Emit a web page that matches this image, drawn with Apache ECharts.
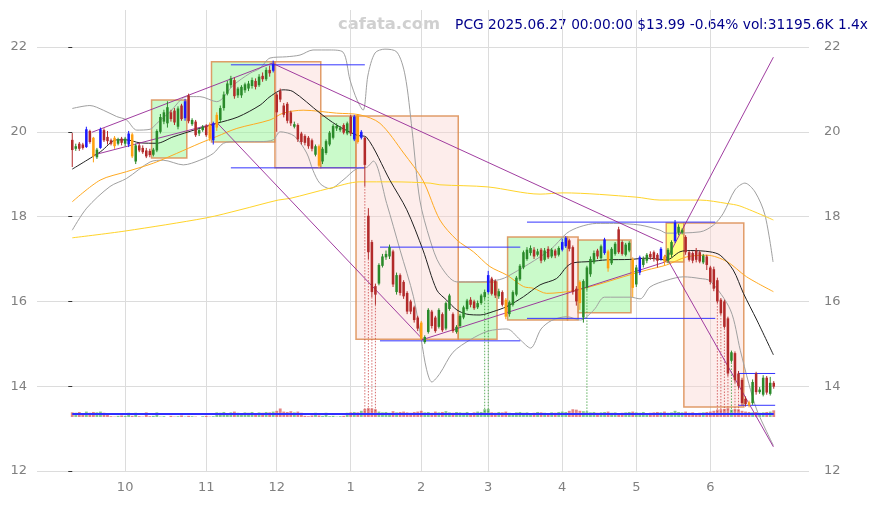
<!DOCTYPE html>
<html><head><meta charset="utf-8">
<script src="https://cdn.jsdelivr.net/npm/echarts@6/dist/echarts.min.js"></script>
<style>html,body{margin:0;padding:0;background:#fff}#c{width:879px;height:505px}</style>
</head><body><div id="c"></div>
<script>
// ---- trading days (categories) ----
const tradingDays = [
  ['2024-09',[10,11,12,13,16,17,18,19,20,23,24,25,26,27,30]],
  ['2024-10',[1,2,3,4,7,8,9,10,11,14,15,16,17,18,21,22,23,24,25,28,29,30,31]],
  ['2024-11',[1,4,5,6,7,8,11,12,13,14,15,18,19,20,21,22,25,26,27,29]],
  ['2024-12',[2,3,4,5,6,9,10,11,12,13,16,17,18,19,20,23,24,26,27,30,31]],
  ['2025-01',[2,3,6,7,8,10,13,14,15,16,17,21,22,23,24,27,28,29,30,31]],
  ['2025-02',[3,4,5,6,7,10,11,12,13,14,18,19,20,21,24,25,26,27,28]],
  ['2025-03',[3,4,5,6,7,10,11,12,13,14,17,18,19,20,21,24,25,26,27,28,31]],
  ['2025-04',[1,2,3,4,7,8,9,10,11,14,15,16,17,21,22,23,24,25,28,29,30]],
  ['2025-05',[1,2,5,6,7,8,9,12,13,14,15,16,19,20,21,22,23,27,28,29,30]],
  ['2025-06',[2,3,4,5,6,9,10,11,12,13,16,17,18,20,23,24,25,26,27]]
];
const dates = [];
tradingDays.forEach(([m, ds]) => ds.forEach(d => dates.push(m + '-' + String(d).padStart(2,'0'))));

// ---- OHLC ----
const open = [19.81,19.60,19.72,19.70,19.64,20.02,19.86,19.40,19.62,20.04,19.88,19.80,19.86,19.72,19.84,
19.72,19.70,19.94,19.30,19.68,19.62,19.56,19.55,19.46,19.56,20.00,20.24,20.20,20.46,20.50,20.12,20.62,20.32,20.86,20.18,20.24,19.96,20.04,
20.14,20.16,19.80,20.10,20.28,20.56,20.90,21.10,21.22,20.86,20.86,20.98,21.02,21.08,21.20,21.10,21.32,21.24,21.46,21.44,
20.88,20.96,20.62,20.66,20.46,20.12,20.16,19.96,19.90,19.86,19.80,19.46,19.66,19.30,19.50,19.70,19.86,20.08,20.04,20.16,19.96,
20.36,19.82,20.38,19.86,19.86,18.02,17.40,16.36,16.42,16.84,17.04,17.06,17.18,16.22,16.62,16.46,16.20,16.00,15.86,15.62,
15.50,15.04,15.28,15.76,15.62,15.40,15.70,15.36,15.82,15.70,15.28,15.42,15.62,15.82,16.04,16.00,15.86,15.96,16.10,
16.22,16.54,16.48,16.12,16.22,16.04,15.70,15.92,16.16,16.52,16.80,17.00,17.14,17.22,17.10,17.22,16.98,17.24,17.06,17.20,17.10,
17.22,17.30,17.44,17.28,16.30,16.46,15.62,16.32,16.64,16.92,17.20,17.02,17.14,17.18,16.90,17.12,17.70,17.40,17.10,17.20,17.00,
16.40,16.68,16.86,16.96,17.12,17.16,17.10,17.00,17.06,16.96,17.10,17.42,17.62,17.62,17.52,17.16,17.14,17.20,17.16,16.92,17.06,
16.80,16.76,16.50,16.04,16.00,15.60,14.60,14.78,14.30,14.15,13.70,13.62,13.60,14.30,13.86,13.80,14.20,13.82,14.08];
const close = [19.57,19.66,19.60,19.62,20.06,19.76,19.42,19.58,20.06,19.80,19.78,19.72,19.66,19.82,19.74,
19.84,19.96,19.42,19.68,19.56,19.52,19.42,19.45,19.58,20.02,20.35,20.46,20.58,20.30,20.22,20.55,20.30,20.72,20.25,20.28,19.92,20.04,20.12,
19.92,19.84,20.20,20.40,20.56,20.88,21.14,21.26,20.84,21.02,21.06,21.12,21.14,21.22,21.06,21.30,21.24,21.46,21.38,21.60,
20.46,20.76,20.40,20.26,20.20,20.18,19.82,19.76,19.74,19.66,19.60,19.66,19.20,19.60,19.78,19.98,20.14,20.14,20.10,19.98,20.20,
19.96,20.36,19.76,20.00,19.22,17.16,16.22,16.16,16.86,17.06,17.12,17.28,16.40,16.62,16.20,16.12,15.76,15.76,15.56,15.36,
15.12,15.16,15.80,15.42,15.30,15.80,15.32,15.96,16.14,15.30,15.40,15.66,15.86,16.02,15.92,15.84,15.96,16.14,16.22,
16.62,16.18,16.14,16.24,15.92,15.64,15.98,16.22,16.56,16.84,17.16,17.22,17.26,17.06,17.18,16.96,17.20,17.04,17.22,17.08,17.26,
17.40,17.50,17.24,16.22,16.00,15.96,16.48,16.80,17.00,17.14,17.06,17.30,17.46,16.78,17.24,17.36,17.16,17.12,17.34,17.38,16.32,
16.80,17.04,17.00,17.10,17.04,17.00,16.96,17.24,16.94,17.22,17.40,17.86,17.76,17.68,17.16,16.98,16.96,16.98,16.94,17.08,16.86,
16.46,16.30,16.00,15.72,15.40,14.30,14.80,14.14,14.00,13.60,13.58,13.55,14.10,13.86,13.92,14.20,13.85,14.08,13.99];
const low = [19.17,19.55,19.55,19.58,19.62,19.72,19.28,19.36,19.60,19.76,19.70,19.68,19.60,19.68,19.68,
19.66,19.64,19.38,19.24,19.52,19.48,19.38,19.40,19.42,19.52,19.96,20.18,20.10,20.24,20.16,20.06,20.26,20.26,20.20,20.14,19.88,19.90,20.00,
19.88,19.78,19.70,20.02,20.22,20.50,20.86,21.04,20.78,20.80,20.80,20.92,20.96,21.02,21.00,21.06,21.18,21.20,21.30,21.40,
20.00,20.70,20.34,20.20,20.14,20.08,19.76,19.70,19.68,19.60,19.54,19.42,19.15,19.24,19.46,19.66,19.82,20.02,20.00,19.94,19.92,
19.90,19.78,19.72,19.82,18.72,17.00,16.10,15.92,16.38,16.80,16.98,17.00,16.34,16.16,16.14,16.06,15.70,15.70,15.50,15.30,
15.08,15.00,15.24,15.36,15.26,15.36,15.28,15.32,15.78,15.26,15.24,15.38,15.58,15.78,15.86,15.80,15.82,15.92,16.04,
16.18,16.14,16.08,16.06,15.88,15.58,15.64,15.88,16.12,16.48,16.76,16.96,17.08,17.00,17.06,16.90,16.94,17.00,17.02,17.02,17.06,
17.18,17.26,17.18,16.16,15.90,15.80,15.50,16.26,16.58,16.88,17.00,16.98,17.10,16.70,16.86,17.08,17.12,17.08,17.06,17.16,16.10,
16.34,16.62,16.80,16.90,16.98,16.94,16.80,16.96,16.86,16.90,17.04,17.38,17.56,17.58,17.10,16.94,16.90,16.92,16.90,16.88,16.74,
16.40,16.24,15.96,15.68,15.36,14.24,14.56,14.08,13.94,13.54,13.52,13.50,13.56,13.80,13.82,13.76,13.80,13.78,13.94];
const high = [19.97,19.72,19.76,19.74,20.12,20.05,19.88,19.62,20.10,20.08,20.02,19.84,19.90,19.86,19.88,
19.88,20.02,19.98,19.72,19.74,19.68,19.62,19.60,19.62,20.06,20.42,20.52,20.72,20.52,20.56,20.60,20.66,20.78,20.90,20.32,20.28,20.08,20.16,
20.18,20.22,20.24,20.46,20.62,20.95,21.20,21.32,21.28,21.06,21.10,21.16,21.20,21.28,21.26,21.36,21.40,21.52,21.56,21.68,
20.92,21.02,20.68,20.70,20.50,20.24,20.20,20.00,19.94,19.90,19.84,19.70,19.70,19.64,19.82,20.02,20.18,20.20,20.14,20.20,20.24,
20.40,20.40,20.42,20.04,19.88,18.20,17.45,16.42,16.90,17.12,17.20,17.34,17.22,16.68,16.66,16.50,16.24,16.04,15.90,15.66,
15.54,15.20,15.84,15.80,15.66,15.84,15.74,16.00,16.18,15.74,15.44,15.70,15.90,16.06,16.10,16.04,16.02,16.18,16.28,
16.72,16.58,16.52,16.30,16.26,16.08,16.02,16.26,16.60,16.88,17.20,17.28,17.32,17.28,17.24,17.26,17.26,17.30,17.26,17.24,17.30,
17.48,17.54,17.48,17.32,16.36,16.50,16.52,16.84,17.06,17.20,17.24,17.34,17.50,17.22,17.28,17.40,17.76,17.44,17.38,17.42,17.04,
16.86,17.08,17.06,17.14,17.18,17.20,17.14,17.28,17.10,17.26,17.44,17.92,17.82,17.72,17.56,17.20,17.18,17.26,17.20,17.12,17.10,
16.84,16.82,16.56,16.08,16.04,15.64,14.84,14.82,14.36,14.20,13.76,13.66,14.16,14.34,13.98,14.26,14.24,14.22,14.12];
// volume, millions of shares
const volume = [26,25,27,24,28,25,27,26,28,25,24,16,15,17,18,
17,25,17,25,16,15,26,16,17,26,15,16,14,17,15,16,18,15,17,16,15,14,16,
17,15,16,26,25,27,24,26,28,25,24,26,25,27,24,26,25,27,26,28,
30,36,28,27,29,26,28,25,17,16,18,25,18,17,25,16,17,15,16,17,25,
26,27,26,30,35,37,36,34,28,26,27,25,29,26,27,28,26,25,27,28,
30,26,27,25,28,26,27,29,26,25,27,26,25,27,24,26,28,27,34,
35,26,25,27,26,28,25,24,26,27,25,26,24,25,27,26,25,24,26,25,27,
28,27,30,34,33,30,29,28,26,27,25,26,27,28,25,26,24,25,26,27,28,
26,25,27,24,25,26,27,26,28,25,26,30,27,26,28,25,26,24,25,26,27,
28,30,33,34,35,37,33,35,34,30,28,27,26,27,25,26,27,28,31.2];
const volAvgPts = [[0,21.6],[50,21.5],[100,21.7],[150,21.6],[199,21.6]];

// highlighted candles
const blueIdx = [4,8,16,32,40,57,80,82,118,139,140,151,161,167,171];
const orangeIdx = [6,12,17,39,41,70,81,99,123,144,152,159,168,192];
// high-volume days marked with dotted drop lines
const spikeIdx = [83,84,85,86,117,118,146,183,184,185,186,187,188,189];

// overlay lines: [day index, price]
const ma20Pts = [[0,19.12],[8,19.53],[12.6,19.81],[15.4,19.81],[19.2,19.74],[24,19.73],[28.6,19.88],[35.3,20.06],[41,20.20],[47,20.35],[53.3,20.63],[56.1,20.83],[59.8,20.99],[62.6,20.95],[70.3,20.44],[75,20.16],[80.7,19.92],[83.5,19.87],[90.1,18.86],[94.9,18.16],[99.5,17.21],[103.4,16.27],[106.2,16.03],[109.1,15.80],[111.9,15.70],[115.7,15.68],[119.4,15.76],[123.3,15.88],[128,16.11],[132.7,16.39],[137.4,16.54],[140.3,16.82],[142.1,16.91],[146.9,16.94],[151.6,16.98],[158.2,16.99],[163,17.02],[168.6,16.98],[172.4,17.17],[175.3,17.20],[180.9,17.17],[183.8,17.09],[187.5,16.74],[190.4,16.19],[194.2,15.56],[198.9,14.74]];
const ma50Pts = [[0,18.35],[7.9,18.86],[15.4,19.06],[23,19.26],[29.6,19.49],[36.2,19.73],[41,19.89],[46.7,20.08],[56.1,20.28],[59.8,20.44],[65.5,20.51],[75,20.44],[81.6,20.40],[87.3,20.20],[94,19.50],[99.5,18.85],[104.3,17.92],[109.1,17.45],[113.8,17.17],[118.5,16.82],[123.3,16.62],[128,16.35],[130.8,16.31],[134.6,16.19],[142.1,16.25],[148.8,16.39],[156.3,16.58],[163,16.74],[168.6,16.86],[174.3,17.05],[180,17.09],[185.7,16.94],[191.3,16.58],[198.9,16.23]];
const ma200Pts = [[0,17.50],[15,17.66],[38,17.97],[47.6,18.16],[58.4,18.39],[61.8,18.43],[73.1,18.67],[81.6,18.82],[91,18.82],[101.5,18.79],[104.3,18.75],[117.9,18.70],[132.7,18.53],[139.2,18.56],[159.9,18.46],[166.7,18.39],[178.1,18.39],[185.7,18.31],[189.4,18.25],[198.9,17.92]];
const bbUpperPts = [[0,20.55],[5,20.62],[8.8,20.51],[12.6,20.36],[15.4,20.28],[18.3,20.04],[22.1,20.06],[24,20.20],[27.7,20.47],[32.5,20.83],[36.2,20.83],[41,20.71],[45.7,21.10],[50.4,21.38],[53.3,21.50],[56.1,21.74],[60.8,21.77],[64.6,21.81],[68.3,21.93],[73.1,21.93],[76.8,21.88],[78.8,21.22],[80.8,20.75],[82.5,20.51],[83.9,21.34],[85.9,21.86],[88.7,21.95],[92.1,21.88],[94.4,21.34],[96.4,20.04],[98.6,18.39],[101.5,17.45],[104.3,16.86],[109.1,16.46],[114.2,16.46],[120.4,16.50],[123.3,16.58],[135.5,17.21],[140.3,17.61],[144,17.76],[148.8,17.84],[153.5,17.84],[161.1,17.80],[166.7,17.68],[168.6,17.61],[178.1,17.64],[181.9,17.80],[184.7,18.08],[188,18.63],[190.8,18.79],[193.7,18.58],[196.5,18.04],[198.8,16.93]];
const bbLowerPts = [[0,17.68],[4.1,18.20],[10.7,18.71],[15.4,18.90],[22.1,19.29],[25.8,19.33],[31.5,19.22],[36.2,19.33],[40,19.49],[42.9,19.73],[46.7,19.77],[53.3,19.77],[57,19.81],[59,20.0],[63,19.9],[66.5,19.5],[68.3,19.09],[70.3,18.78],[73.1,18.66],[76.8,18.86],[80.7,19.13],[83.5,19.16],[85.4,19.31],[89.2,18.31],[93,17.21],[96.8,16.11],[99,15.1],[100.5,14.4],[102,14.1],[104.3,14.3],[108,14.8],[113,15.1],[118,15.3],[123.3,15.35],[127,15.1],[130,14.9],[133,15.35],[136,15.55],[140.3,15.64],[144.1,15.56],[148,15.8],[151,16.1],[158.3,16.1],[161.1,16.06],[163.9,16.34],[168.7,16.5],[173.4,16.58],[178.1,16.54],[181,16.48],[186.7,15.8],[189.5,14.85],[191.9,14.07],[194.2,13.44],[198.9,12.6]];

// zones: [first day, last day, top, bottom, kind]
const boxes = [[23,32,20.75,19.38,'g'],[40,57,21.65,19.76,'g'],[58,70,21.65,19.15,'r'],[71,80,20.37,19.15,'g'],[81,109,20.37,15.11,'r'],[110,120,16.46,15.11,'g'],[124,140,17.52,15.56,'g'],[141,143,17.52,15.56,'r'],[144,158,17.45,15.73,'g'],[169,173,17.85,16.93,'y'],[174,190,17.85,13.51,'r']];
// support / resistance levels: [from day, to day, price]
const levels = [[45,83,21.58],[45,83,19.15],[87.3,127.1,17.28],[87.3,127.1,15.07],[129,182.4,17.87],[129,182.4,15.60],[188.9,199.4,14.30],[188.9,199.4,13.55]];
// trend lines
const trendLines = [
  [[5.6,19.99],[56.7,21.62]],
  [[5.9,19.45],[41.1,20.21]],
  [[41.1,20.21],[99.6,15.09]],
  [[56.7,21.62],[167.6,17.38]],
  [[168.2,17.09],[198.9,12.57]],
  [[99,15.09],[168.2,16.93]],
  [[168.2,16.93],[198.9,21.76]]
];
const titleText = 'PCG 2025.06.27 00:00:00 $13.99 -0.64% vol:31195.6K 1.4x';

// ---- chart ----
const N = dates.length;
const UP = '#2a8a2a', DOWN = '#b22a2a', HL_BLUE = '#1a1aff', HL_ORANGE = '#ffa010';
const monthStarts = [];
dates.forEach((d, i) => { if (i > 0 && d.slice(0,7) !== dates[i-1].slice(0,7)) monthStarts.push(i); });
const candleData = dates.map((d, i) => [i, open[i], close[i], low[i], high[i], blueIdx.includes(i) ? 1 : (orangeIdx.includes(i) ? 2 : 0)]);
const VOL_MIN = 14;

const chart = echarts.init(document.getElementById('c'));
const lineSeries = (pts, color, width, z) => ({
  type: 'line', data: pts, xAxisIndex: 0, yAxisIndex: 0, showSymbol: false, symbol: 'none',
  smooth: 0.3, lineStyle: { color, width }, z, silent: true
});
const option = {
  animation: false,
  backgroundColor: '#fff',
  grid: [
    { left: 37, right: 70, top: 10, bottom: 34 },
    { left: 37, right: 70, top: 405, bottom: 88 }
  ],
  xAxis: [
    { type: 'value', gridIndex: 0, min: -10, max: N + 9,
      axisLine: { show: false }, axisTick: { show: false, customValues: monthStarts },
      axisLabel: { customValues: monthStarts, color: '#808080', fontSize: 13, margin: 10, fontFamily: 'DejaVu Sans',
        formatter: v => String(Number(dates[Math.round(v)].slice(5,7))) },
      splitLine: { show: true, lineStyle: { color: '#dcdcdc', width: 1 } } },
    { type: 'value', gridIndex: 1, min: -10, max: N + 9, show: false }
  ],
  yAxis: [
    { type: 'value', gridIndex: 0, min: 12, max: 22.873, interval: 2, position: 'left',
      axisLine: { show: false }, axisTick: { show: true, length: 4, lineStyle: { color: '#333' } },
      axisLabel: { color: '#808080', fontSize: 13, margin: 10, fontFamily: 'DejaVu Sans', showMaxLabel: false },
      splitLine: { show: true, lineStyle: { color: ['#dcdcdc','#dcdcdc','#dcdcdc','#dcdcdc','#dcdcdc','#dcdcdc','rgba(0,0,0,0)'] } } },
    { type: 'value', gridIndex: 0, min: 12, max: 22.873, interval: 2, position: 'right',
      axisLine: { show: false }, axisTick: { show: false },
      axisLabel: { color: '#808080', fontSize: 13, margin: 15, fontFamily: 'DejaVu Sans', showMaxLabel: false },
      splitLine: { show: false } },
    { type: 'value', gridIndex: 1, min: VOL_MIN, max: 45, show: false }
  ],
  graphic: [
    { type: 'text', left: 338, top: 17, style: { text: 'cafata.com', font: 'bold 16.4px "DejaVu Sans"', fill: '#d0d0d0' } },
    { type: 'text', right: 11, top: 18, style: { text: titleText, font: '13.75px "DejaVu Sans"', fill: '#00008b' } }
  ],
  series: [
    // zones
    { type: 'custom', xAxisIndex: 0, yAxisIndex: 0, z: 1, silent: true,
      data: boxes.map(b => [b[0], b[1], b[2], b[3], b[4] === 'g' ? 0 : (b[4] === 'r' ? 1 : 2)]),
      encode: { x: [0,1], y: [2,3] },
      renderItem: (p, api) => {
        const a = api.coord([api.value(0) - 0.5, api.value(2)]);
        const b = api.coord([api.value(1) + 0.5, api.value(3)]);
        const k = api.value(4);
        const fill = k === 0 ? 'rgba(150,245,150,0.5)' : (k === 1 ? 'rgba(250,210,205,0.4)' : 'rgba(255,255,90,0.75)');
        return { type: 'rect', shape: { x: a[0], y: a[1], width: b[0]-a[0], height: b[1]-a[1] },
          style: { fill, stroke: 'rgba(220,140,80,0.85)', lineWidth: 1.5 } };
      } },
    lineSeries(bbUpperPts, '#a0a0a0', 1, 2),
    lineSeries(bbLowerPts, '#a0a0a0', 1, 2),
    lineSeries(ma200Pts, '#ffd42a', 1, 3),
    lineSeries(ma50Pts, '#ffaa22', 1, 3),
    lineSeries(ma20Pts, '#222222', 1, 3),
    // support / resistance
    { type: 'custom', xAxisIndex: 0, yAxisIndex: 0, z: 4, silent: true, data: levels,
      encode: { x: [0,1], y: 2 },
      renderItem: (p, api) => {
        const a = api.coord([api.value(0), api.value(2)]);
        const b = api.coord([api.value(1), api.value(2)]);
        return { type: 'line', shape: { x1: a[0], y1: a[1], x2: b[0], y2: b[1] }, style: { stroke: '#3333ff', lineWidth: 1 } };
      } },
    ...trendLines.map(t => ({ type: 'line', data: t, xAxisIndex: 0, yAxisIndex: 0, symbol: 'none', silent: true, z: 4,
      lineStyle: { color: 'rgba(150,40,150,0.9)', width: 1 } })),
    // drop lines for high volume days
    { type: 'custom', xAxisIndex: 0, yAxisIndex: 0, z: 4, silent: true,
      data: spikeIdx.map(i => [i, low[i], close[i] >= open[i] ? 1 : 0]),
      encode: { x: 0, y: 1 },
      renderItem: (p, api) => {
        const a = api.coord([api.value(0), api.value(1)]);
        const b = api.coord([api.value(0), 13.38]);
        return { type: 'line', shape: { x1: a[0], y1: a[1], x2: b[0], y2: b[1] },
          style: { stroke: api.value(2) ? 'rgba(40,150,40,0.75)' : 'rgba(200,60,60,0.75)', lineWidth: 1, lineDash: [1.5,1.5] } };
      } },
    // candles
    { type: 'custom', xAxisIndex: 0, yAxisIndex: 0, z: 5, silent: true, data: candleData,
      encode: { x: 0, y: [1,2,3,4] },
      renderItem: (p, api) => {
        const i = api.value(0), o = api.value(1), c = api.value(2), l = api.value(3), h = api.value(4), f = api.value(5);
        const pO = api.coord([i,o]), pC = api.coord([i,c]), pL = api.coord([i,l]), pH = api.coord([i,h]);
        let col = c >= o ? UP : DOWN;
        let w = api.size([1,0])[0] * 0.72;
        if (f === 1) col = HL_BLUE; else if (f === 2) col = HL_ORANGE;
        const top = Math.min(pO[1], pC[1]), bot = Math.max(pO[1], pC[1]);
        return { type: 'group', children: [
          { type: 'line', shape: { x1: pH[0], y1: pH[1], x2: pL[0], y2: pL[1] }, style: { stroke: col, lineWidth: 1 } },
          { type: 'rect', shape: { x: pO[0] - w/2, y: top, width: w, height: Math.max(1, bot - top) }, style: { fill: col } }
        ] };
      } },
    // volume
    { type: 'custom', xAxisIndex: 1, yAxisIndex: 2, z: 2, silent: true,
      data: volume.map((v, i) => [i, v, close[i] >= open[i] ? 1 : 0]),
      encode: { x: 0, y: 1 },
      renderItem: (p, api) => {
        const v = api.value(1);
        if (v <= VOL_MIN) return null;
        const a = api.coord([api.value(0), VOL_MIN]);
        const b = api.coord([api.value(0), v]);
        const w = api.size([1,0])[0] * 0.8;
        const top = Math.max(b[1], p.coordSys.y);
        return { type: 'rect', shape: { x: a[0] - w/2, y: top, width: w, height: a[1] - top },
          style: { fill: api.value(2) ? 'rgba(90,175,90,0.7)' : 'rgba(215,95,95,0.75)' } };
      } },
    { type: 'line', xAxisIndex: 1, yAxisIndex: 2, data: volAvgPts, symbol: 'none', silent: true, z: 3,
      lineStyle: { color: '#2f2fff', width: 2 } }
  ]
};
chart.setOption(option);
</script>
</body></html>
